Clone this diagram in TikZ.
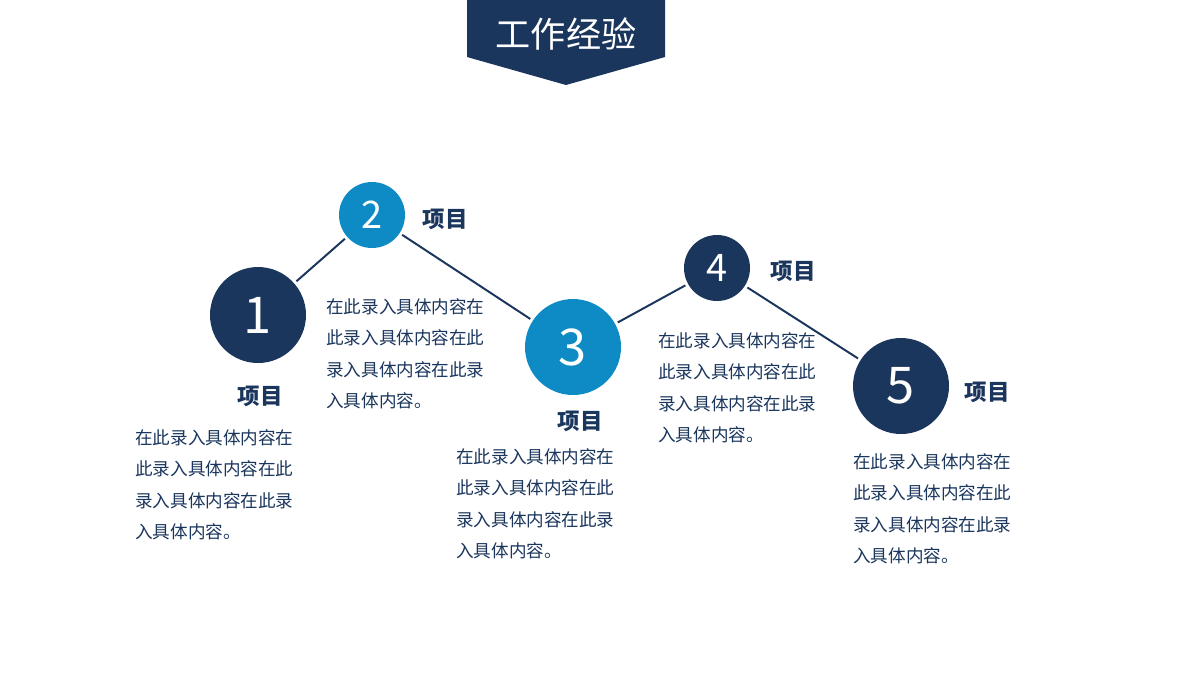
\documentclass[tikz,border=0pt]{standalone}
\usepackage{fontspec}
\newfontfamily\cjk{Noto Sans CJK SC}
\definecolor{navy}{RGB}{27,54,93}
\definecolor{sky}{RGB}{14,139,196}
\newcommand{\desc}{在此录入具体内容在\\此录入具体内容在此\\录入具体内容在此录\\入具体内容。}

\begin{document}
\begin{tikzpicture}[x=0.025cm,y=-0.025cm]
\tikzstyle{every node}+=[font=\cjk]
\tikzstyle{big}=[circle,fill=navy,minimum size=96*0.025cm,inner sep=0pt,text=white,font=\cjk\fontsize{36}{36}\selectfont]
\tikzstyle{small}=[circle,minimum size=66*0.025cm,inner sep=0pt,text=white,font=\cjk\fontsize{27}{27}\selectfont]
\tikzstyle{item}=[text=navy,font=\cjk\bfseries\fontsize{16}{16}\selectfont]
\tikzstyle{body}=[text=navy,anchor=north west,align=left,inner sep=0pt,font=\cjk\fontsize{12.5}{22.4}\selectfont]
\tikzstyle{link}=[navy,line width=1.4pt,shorten >=2pt,shorten <=2pt]
\useasboundingbox (0,0) rectangle (1200,680);
\fill[white] (0,0) rectangle (1200,680);
% header
\fill[navy] (467,0) -- (665,0) -- (665,57) -- (566,85) -- (467,57) -- cycle;
\node[text=white,font=\cjk\fontsize{25}{25}\selectfont] (title) at (566,34) {工作经验};
% steps
\node[big] (c1) at (258,315) {1};
\node[small,fill=sky] (c2) at (372,215) {2};
\node[big,fill=sky] (c3) at (573,347) {3};
\node[small,fill=navy] (c4) at (717,268) {4};
\node[big] (c5) at (901,386) {5};
\draw[link] (c1) -- (c2);
\draw[link] (c2) -- (c3);
\draw[link] (c3) -- (c4);
\draw[link] (c4) -- (c5);
% labels
\node[item] (t1) at (260,396) {项目};
\node[item] (t2) at (445,219) {项目};
\node[item] (t3) at (580,421) {项目};
\node[item] (t4) at (793,271) {项目};
\node[item] (t5) at (987,392) {项目};
\node[body] (d1) at (135,429) {\desc};
\node[body] (d2) at (326,298) {\desc};
\node[body] (d3) at (456,448) {\desc};
\node[body] (d4) at (658,332) {\desc};
\node[body] (d5) at (853,453) {\desc};
\end{tikzpicture}
\end{document}
